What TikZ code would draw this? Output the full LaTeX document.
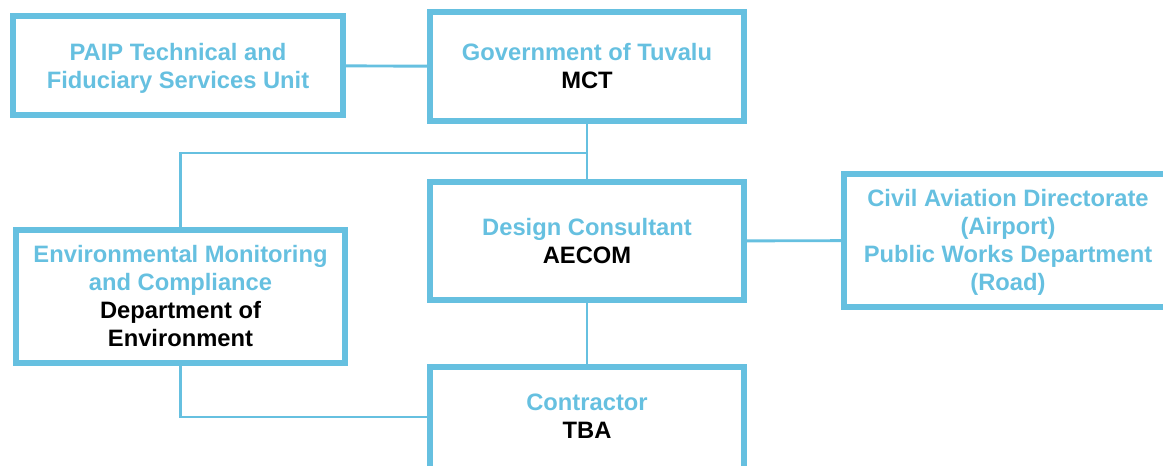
\documentclass[tikz,border=0pt]{standalone}
\usepackage{fontspec}
\setmainfont{Liberation Sans}
\definecolor{tblue}{RGB}{102,192,224}
\begin{document}
\begin{tikzpicture}[x=0.75pt, y=-0.75pt,
    box/.style={draw=tblue, line width=4.5pt, align=center, text=tblue, inner sep=0pt,
      font=\fontsize{17.8}{21}\selectfont\bfseries},
    link/.style={draw=tblue, line width=2.2pt}]
    \useasboundingbox (0,0) rectangle (1163,465);
    \clip (0,0) rectangle (1163,465);

    \node[box, minimum width=247.5pt, minimum height=74.25pt, text depth=0pt] (P) at (178,65.5) {PAIP Technical and\\Fiduciary Services Unit};
    \node[box, minimum width=235.5pt, minimum height=81.75pt] (G) at (587,66.5) {Government of Tuvalu\\\textcolor{black}{MCT}};
    \node[box, minimum width=235.5pt, minimum height=88.5pt] (D) at (587,241) {Design Consultant\\\textcolor{black}{AECOM}};
    \node[box, minimum width=246pt, minimum height=99.75pt, text depth=1pt] (A) at (1008,240.5) {Civil Aviation Directorate\\(Airport)\\Public Works Department\\(Road)};
    \node[box, minimum width=246.75pt, minimum height=99.75pt] (E) at (180.5,296.5) {Environmental Monitoring\\and Compliance\\\textcolor{black}{Department of}\\\textcolor{black}{Environment}};
    \node[box, minimum width=235.5pt, minimum height=87pt, text depth=12.5pt] (C) at (587,425) {Contractor\\\textcolor{black}{TBA}};

    \draw[link] (P) -- (G);
    \draw[link] (G) -- (D);
    \coordinate (J) at (587,153);
    \draw[link] (J) -| (E);
    \draw[link] (D) -- (A);
    \draw[link] (D) -- (C);
    \draw[link] (E) |- ([yshift=6pt]C.west);
\end{tikzpicture}
\end{document}
